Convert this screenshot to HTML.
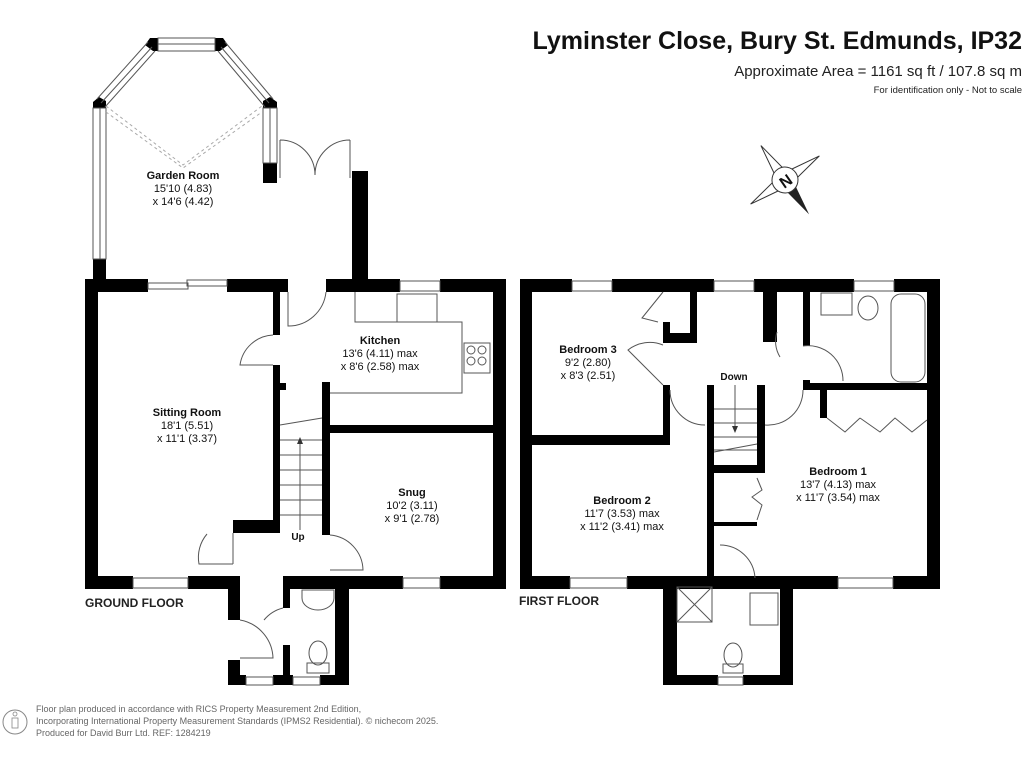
<!DOCTYPE html>
<html><head><style>
body{margin:0;background:#fff;}
svg{display:block;font-family:"Liberation Sans",Arial,sans-serif;}
</style></head><body>
<svg width="1024" height="768" viewBox="0 0 1024 768" xmlns="http://www.w3.org/2000/svg">
<rect width="1024" height="768" fill="#fff"/>
<!-- header -->
<text x="1022" y="49" text-anchor="end" font-size="25" font-weight="bold" fill="#111">Lyminster Close, Bury St. Edmunds, IP32</text>
<text x="1022" y="76" text-anchor="end" font-size="15" fill="#222">Approximate Area = 1161 sq ft / 107.8 sq m</text>
<text x="1022" y="93" text-anchor="end" font-size="9.5" fill="#222">For identification only - Not to scale</text>
<!-- compass -->
<g transform="translate(785,180) rotate(-35)">
<polygon points="0,-42 6,-6 0,0 -6,-6" fill="#fff" stroke="#333"/>
<polygon points="0,42 6,6 0,0 -6,6" fill="#222"/>
<polygon points="-42,0 -6,-6 0,0 -6,6" fill="#fff" stroke="#333"/>
<polygon points="42,0 6,-6 0,0 6,6" fill="#fff" stroke="#333"/>
<circle r="13" fill="#fff" stroke="#333"/>
</g>
<text x="785" y="187" text-anchor="middle" font-size="16" font-weight="bold" fill="#111" transform="rotate(-35 785 180)">N</text>

<g fill="#000">
<!-- GROUND FLOOR -->
<rect x="85" y="279" width="63" height="13"/>
<rect x="227" y="279" width="61" height="13"/>
<rect x="326" y="279" width="74" height="13"/>
<rect x="440" y="279" width="66" height="13"/>
<rect x="85" y="279" width="13" height="310"/>
<rect x="493" y="279" width="13" height="310"/>
<rect x="85" y="576" width="48" height="13"/>
<rect x="188" y="576" width="52" height="13"/>
<rect x="283" y="576" width="120" height="13"/>
<rect x="440" y="576" width="66" height="13"/>
<rect x="273" y="292" width="7" height="43"/>
<rect x="273" y="365" width="7" height="160"/>
<rect x="233" y="520" width="47" height="13"/>
<rect x="322" y="382" width="8" height="153"/>
<rect x="330" y="425" width="163" height="8"/>
<rect x="280" y="383" width="6" height="7"/>
<!-- hall/wc -->
<rect x="228" y="576" width="12" height="44"/>
<rect x="228" y="660" width="12" height="25"/>
<rect x="228" y="675" width="18" height="10"/>
<rect x="273" y="675" width="20" height="10"/>
<rect x="320" y="675" width="29" height="10"/>
<rect x="283" y="578" width="7" height="30"/>
<rect x="283" y="645" width="7" height="40"/>
<rect x="335" y="589" width="14" height="96"/>
<!-- garden room -->
<rect x="93" y="259" width="13" height="20"/>
<rect x="263" y="163" width="14" height="20"/>
<rect x="352" y="171" width="16" height="108"/>
<polygon points="93,108 106,108 106,101 99,97 93,102"/>
<polygon points="145,45 150,38 158,38 158,51 153,51"/>
<polygon points="215,38 223,38 228,45 220,51 215,51"/>
<polygon points="263,101 270,97 277,102 277,108 263,108"/>
<!-- FIRST FLOOR -->
<rect x="520" y="279" width="52" height="13"/>
<rect x="612" y="279" width="102" height="13"/>
<rect x="754" y="279" width="100" height="13"/>
<rect x="894" y="279" width="46" height="13"/>
<rect x="520" y="279" width="12" height="310"/>
<rect x="927" y="279" width="13" height="310"/>
<rect x="520" y="576" width="50" height="13"/>
<rect x="627" y="576" width="211" height="13"/>
<rect x="893" y="576" width="47" height="13"/>
<rect x="532" y="435" width="138" height="10"/>
<rect x="663" y="385" width="7" height="60"/>
<rect x="663" y="333" width="34" height="10"/>
<rect x="690" y="292" width="7" height="51"/>
<rect x="663" y="322" width="7" height="21"/>
<rect x="707" y="385" width="7" height="195"/>
<rect x="757" y="385" width="8" height="88"/>
<rect x="707" y="465" width="58" height="8"/>
<rect x="714" y="522" width="43" height="4"/>
<rect x="763" y="292" width="14" height="50"/>
<rect x="803" y="292" width="7" height="54"/>
<rect x="803" y="380" width="7" height="10"/>
<rect x="803" y="383" width="124" height="7"/>
<rect x="820" y="390" width="7" height="28"/>
<rect x="663" y="589" width="14" height="96"/>
<rect x="780" y="589" width="13" height="96"/>
<rect x="663" y="675" width="55" height="10"/>
<rect x="743" y="675" width="50" height="10"/>
</g>

<g fill="none" stroke="#555" stroke-width="1">
<!-- windows ground -->
<rect x="148" y="283" width="40" height="6"/><rect x="187" y="280" width="40" height="6"/>
<rect x="400" y="281" width="40" height="10"/>
<rect x="133" y="578" width="55" height="10"/>
<rect x="403" y="578" width="37" height="10"/>
<rect x="246" y="677" width="27" height="8"/><rect x="293" y="677" width="27" height="8"/>
<!-- garden room glazing -->
<rect x="93" y="108" width="13" height="151"/>
<line x1="100" y1="108" x2="100" y2="259"/>
<rect x="263" y="108" width="14" height="55"/>
<line x1="270" y1="108" x2="270" y2="163"/>
<rect x="158" y="38" width="57" height="13"/><line x1="158" y1="44" x2="215" y2="44"/>
<line x1="97" y1="99" x2="148" y2="42"/><line x1="101" y1="103" x2="152" y2="47"/><line x1="105" y1="107" x2="155" y2="51"/>
<line x1="273" y1="99" x2="225" y2="42"/><line x1="269" y1="103" x2="221" y2="47"/><line x1="265" y1="107" x2="218" y2="51"/>
<!-- doors -->
<path d="M280 140 L280 178 M280 140 A35 35 0 0 1 315 175"/>
<path d="M350 140 L350 178 M350 140 A35 35 0 0 0 315 175"/>
<path d="M288 292 L288 326 A38 38 0 0 0 326 292"/>
<path d="M273 335 A35 35 0 0 0 240 365 L273 365"/>
<path d="M207 534 A36 36 0 0 0 199 564 L233 564 M233 533 L233 564"/>
<path d="M330 535 A36 36 0 0 1 363 570 L330 570"/>
<path d="M240 620 A40 40 0 0 1 273 658 L240 658"/>
<path d="M283 608 A36 36 0 0 0 264 620"/>
<!-- kitchen counter -->
<path d="M355 292 L355 322 L462 322 L462 393 L330 393"/>
<rect x="397" y="294" width="40" height="28"/>
<rect x="464" y="343" width="26" height="30"/>
<circle cx="471" cy="350" r="4"/><circle cx="482" cy="350" r="4"/><circle cx="471" cy="361" r="4"/><circle cx="482" cy="361" r="4"/>
<!-- stairs -->
<line x1="280" y1="425" x2="322" y2="418"/>
<line x1="280" y1="440" x2="322" y2="440"/><line x1="280" y1="455" x2="322" y2="455"/>
<line x1="280" y1="470" x2="322" y2="470"/><line x1="280" y1="485" x2="322" y2="485"/>
<line x1="280" y1="500" x2="322" y2="500"/><line x1="280" y1="515" x2="322" y2="515"/>
<line x1="300" y1="530" x2="300" y2="440"/>
<!-- wc -->
<path d="M302 590 L334 590 L334 598 A16 12 0 0 1 302 598 Z"/>
<ellipse cx="318" cy="653" rx="9" ry="12"/><rect x="307" y="663" width="22" height="10"/>

<!-- first floor windows -->
<rect x="572" y="281" width="40" height="10"/><rect x="714" y="281" width="40" height="10"/><rect x="854" y="281" width="40" height="10"/>
<rect x="570" y="578" width="57" height="10"/><rect x="838" y="578" width="55" height="10"/>
<rect x="718" y="677" width="25" height="8"/>
<!-- doors FF -->
<path d="M663 345 A35 35 0 0 0 628 350 L663 385"/>
<path d="M670 390 A35 35 0 0 0 705 425"/>
<path d="M765 425 A35 35 0 0 0 803 390"/>
<path d="M803 346 A35 35 0 0 1 843 381"/>
<path d="M777 332 A30 30 0 0 0 780 357"/>
<path d="M720 545 A35 35 0 0 1 755 578"/>
<path d="M663 292 L642 318 L658 322"/>
<!-- stairs FF -->
<line x1="714" y1="409" x2="757" y2="409"/><line x1="714" y1="423" x2="757" y2="423"/>
<line x1="714" y1="437" x2="757" y2="437"/><line x1="714" y1="450" x2="757" y2="450"/>
<line x1="714" y1="452" x2="757" y2="444"/>
<line x1="735" y1="385" x2="735" y2="430"/>
<!-- wardrobes -->
<path d="M827 418 L845 432 L860 418 M860 418 L880 432 L895 418 L912 432 L927 420"/>
<path d="M757 478 L762 490 L752 497 L762 505 L757 520"/>
<!-- bathroom -->
<rect x="821" y="293" width="31" height="22"/>
<ellipse cx="868" cy="308" rx="10" ry="12"/>
<rect x="891" y="294" width="34" height="88" rx="10"/>
<!-- ensuite -->
<rect x="677" y="587" width="35" height="35"/><line x1="677" y1="587" x2="712" y2="622"/><line x1="712" y1="587" x2="677" y2="622"/>
<rect x="750" y="593" width="28" height="32"/>
<ellipse cx="733" cy="655" rx="9" ry="12"/><rect x="723" y="664" width="20" height="9"/>
</g>
<polygon points="300,437 297,444 303,444" fill="#333"/>
<polygon points="735,433 732,426 738,426" fill="#333"/>
<g fill="none" stroke="#aaa" stroke-dasharray="3,3" stroke-width="1">
<path d="M106 106 L183 165 L262 106"/><path d="M106 112 L183 168 L262 112"/>
</g>

<g font-size="11" fill="#111" text-anchor="middle">
<text x="183" y="179" font-weight="bold">Garden Room</text>
<text x="183" y="192">15'10 (4.83)</text><text x="183" y="205">x 14'6 (4.42)</text>
<text x="187" y="416" font-weight="bold">Sitting Room</text>
<text x="187" y="429">18'1 (5.51)</text><text x="187" y="442">x 11'1 (3.37)</text>
<text x="380" y="344" font-weight="bold">Kitchen</text>
<text x="380" y="357">13'6 (4.11) max</text><text x="380" y="370">x 8'6 (2.58) max</text>
<text x="412" y="496" font-weight="bold">Snug</text>
<text x="412" y="509">10'2 (3.11)</text><text x="412" y="522">x 9'1 (2.78)</text>
<text x="298" y="540" font-weight="bold" font-size="10">Up</text>
<text x="588" y="353" font-weight="bold">Bedroom 3</text>
<text x="588" y="366">9'2 (2.80)</text><text x="588" y="379">x 8'3 (2.51)</text>
<text x="734" y="380" font-weight="bold" font-size="10">Down</text>
<text x="622" y="504" font-weight="bold">Bedroom 2</text>
<text x="622" y="517">11'7 (3.53) max</text><text x="622" y="530">x 11'2 (3.41) max</text>
<text x="838" y="475" font-weight="bold">Bedroom 1</text>
<text x="838" y="488">13'7 (4.13) max</text><text x="838" y="501">x 11'7 (3.54) max</text>
</g>
<text x="85" y="607" font-size="12" font-weight="bold" fill="#222">GROUND FLOOR</text>
<text x="519" y="605" font-size="12" font-weight="bold" fill="#222">FIRST FLOOR</text>

<!-- footer -->
<circle cx="15" cy="722" r="12" fill="none" stroke="#888"/>
<rect x="12" y="718" width="6" height="10" fill="none" stroke="#888" stroke-width="0.8"/>
<circle cx="15" cy="714" r="2" fill="none" stroke="#888" stroke-width="0.8"/>
<g font-size="9" fill="#666">
<text x="36" y="712">Floor plan produced in accordance with RICS Property Measurement 2nd Edition,</text>
<text x="36" y="724">Incorporating International Property Measurement Standards (IPMS2 Residential).   © nichecom 2025.</text>
<text x="36" y="736">Produced for David Burr Ltd.   REF:   1284219</text>
</g>
</svg>
</body></html>
